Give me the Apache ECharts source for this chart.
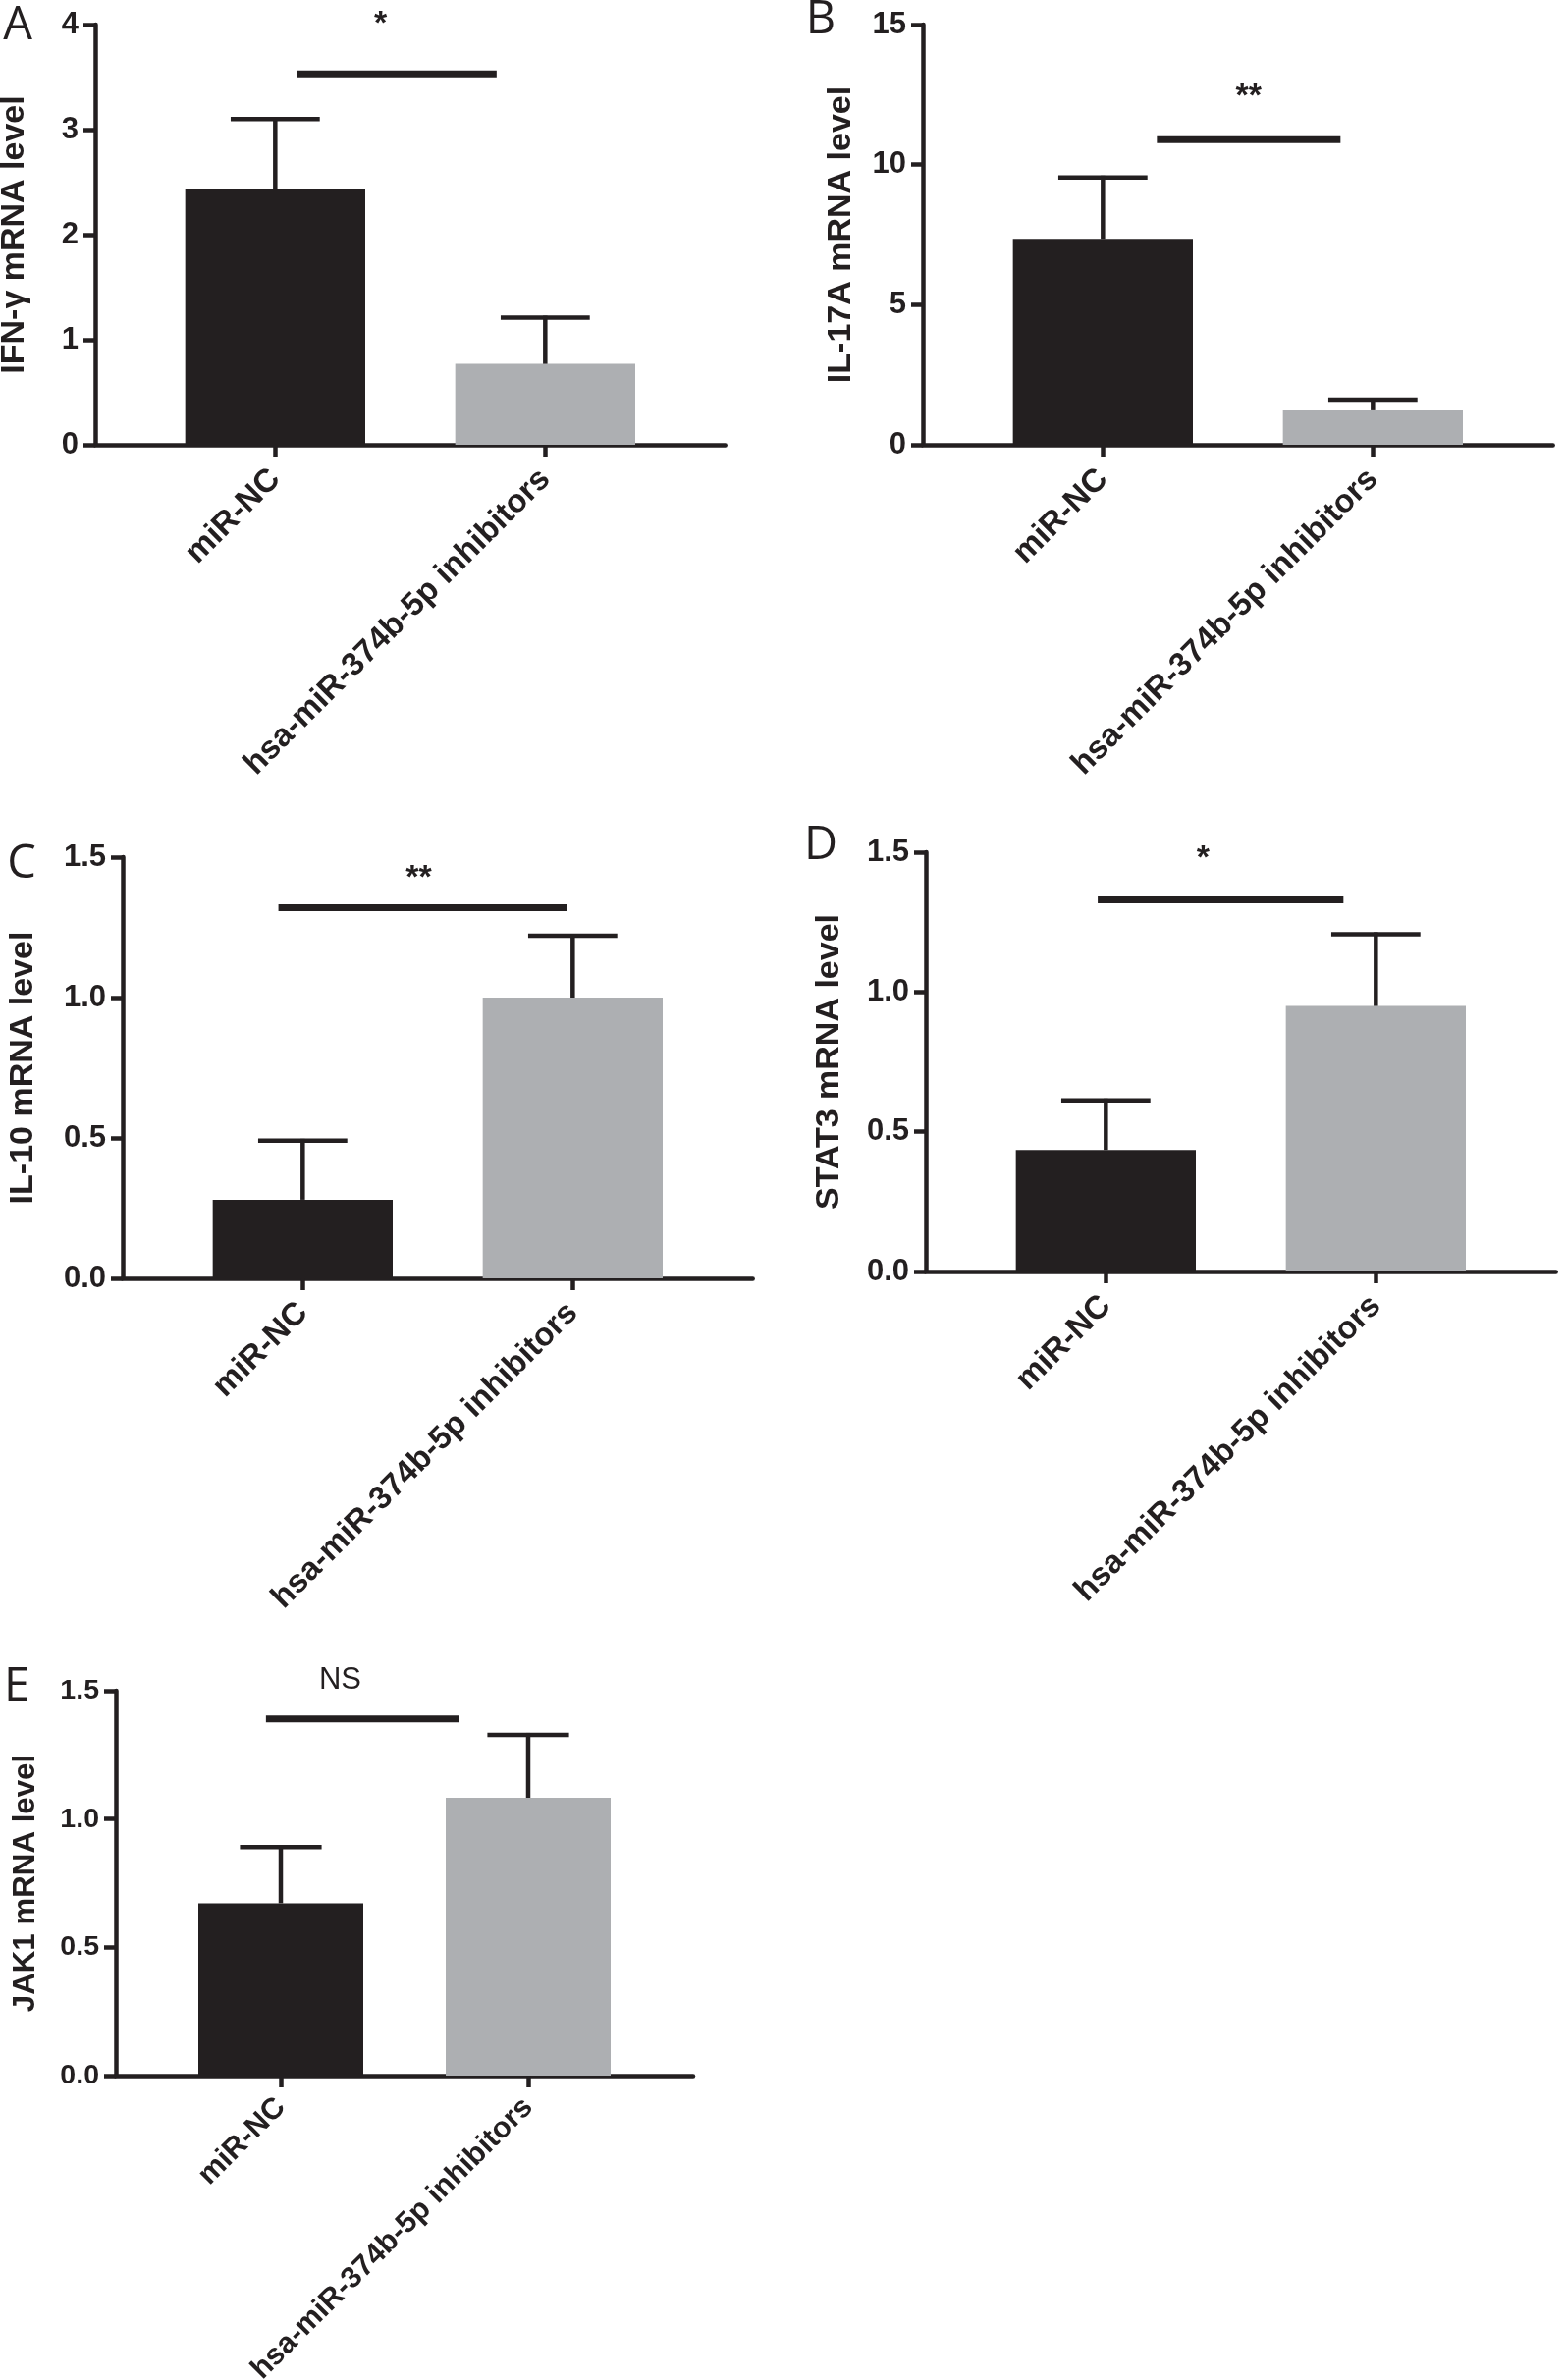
<!DOCTYPE html>
<html><head><meta charset="utf-8">
<script src="https://cdn.jsdelivr.net/npm/echarts@6/dist/echarts.min.js"></script>
<style>html,body{margin:0;padding:0;background:#fff}#chart{width:1594px;height:2424px}</style>
</head><body><div id="chart"></div>
<script>
// ---- data ----
const categories = ['miR-NC', 'hsa-miR-374b-5p inhibitors'];
const ifngMean = [2.43, 0.77];
const ifngSD = [0.67, 0.44];
const il17aMean = [7.35, 1.23];
const il17aSD = [2.19, 0.38];
const il10Mean = [0.28, 1.00];
const il10SD = [0.21, 0.22];
const stat3Mean = [0.435, 0.95];
const stat3SD = [0.177, 0.257];
const jak1Mean = [0.672, 1.083];
const jak1SD = [0.219, 0.245];
const panelLetters = ['A', 'B', 'C', 'D', 'E'];
const yTitles = ['IFN-γ mRNA level', 'IL-17A mRNA level', 'IL-10 mRNA level', 'STAT3 mRNA level', 'JAK1 mRNA level'];
const yMax = [4, 15, 1.5, 1.5, 1.5];
const yStep = [1, 5, 0.5, 0.5, 0.5];
const yDecimals = [0, 0, 1, 1, 1];
const sigText = ['*', '**', '**', '*', 'NS'];
const sigStart = [1.08, 1.20, 0.91, 0.97, 0.94];
const sigEnd = [1.82, 1.88, 1.98, 1.88, 1.72];
const sigLevel = [3.53, 10.89, 1.32, 1.33, 1.39];
const sigLabelX = [1.39, 1.54, 1.43, 1.36, 1.24];
const sigLabelY = [4.07, 12.65, 1.45, 1.50, 1.54];

const means = [ifngMean, il17aMean, il10Mean, stat3Mean, jak1Mean];
const sds = [ifngSD, il17aSD, il10SD, stat3SD, jak1SD];

// ---- layout / style ----
const INK = '#231f20';
const barColors = ['#231f20', '#adafb2'];
const layout = [
  {left: 97, top: 25, zero: 453, spacing: 275, nameGap: 65, lx: 18, ly: 27, s: 1},
  {left: 940, top: 25, zero: 453, spacing: 275, nameGap: 66, lx: 836, ly: 21, s: 1},
  {left: 125, top: 873, zero: 1302, spacing: 275, nameGap: 84, lx: 22, ly: 881, s: 1},
  {left: 943, top: 868, zero: 1295, spacing: 275, nameGap: 81, lx: 836, ly: 862, s: 1},
  {left: 118, top: 1722, zero: 2114, spacing: 252, nameGap: 76, lx: 17, ly: 1719, s: 0.92}
];
const XMIN = 1 / 3, XMAX = 8 / 3;
const BOLD = 'Liberation Sans';

const grid = [], xAxis = [], yAxis = [], series = [], graphic = [];
layout.forEach((L, i) => {
  const s = L.s;
  grid.push({left: L.left, top: L.top, width: L.spacing * (XMAX - XMIN), height: L.zero - L.top,
    containLabel: false, outerBoundsMode: 'none'});
  xAxis.push({
    type: 'value', gridIndex: i, min: XMIN, max: XMAX,
    axisLine: {show: true, onZero: false, lineStyle: {color: INK, width: 4.5}},
    axisTick: {show: true, customValues: [1, 2], length: 12, lineStyle: {color: INK, width: 4.5}},
    axisLabel: {
      show: true, customValues: [1, 2], rotate: 45, margin: 30 * s,
      formatter: v => categories[Math.round(v) - 1] || '',
      color: INK, fontSize: 33 * s, fontWeight: 'bold', fontFamily: BOLD
    },
    splitLine: {show: false}
  });
  yAxis.push({
    type: 'value', gridIndex: i, min: 0, max: yMax[i], interval: yStep[i],
    name: yTitles[i], nameLocation: 'middle', nameGap: L.nameGap,
    nameTextStyle: {color: INK, fontSize: 34 * s, fontWeight: 'bold', fontFamily: BOLD},
    axisLine: {show: true, onZero: false, lineStyle: {color: INK, width: 4.5}},
    axisTick: {show: true, length: 12, lineStyle: {color: INK, width: 4.5}},
    axisLabel: {
      color: INK, fontSize: 31 * s, fontWeight: 'bold', fontFamily: BOLD, margin: 17,
      formatter: v => v.toFixed(yDecimals[i])
    },
    splitLine: {show: false}
  });
  series.push({
    type: 'bar', xAxisIndex: i, yAxisIndex: i, barWidth: L.spacing * 2 / 3,
    data: means[i].map((m, k) => ({value: [k + 1, m], itemStyle: {color: barColors[k]}})),
    z: 2, silent: true
  });
  series.push({
    type: 'custom', xAxisIndex: i, yAxisIndex: i, z: 3, silent: true,
    data: means[i].map((m, k) => [k + 1, m, sds[i][k]]),
    renderItem: (params, api) => {
      const x = api.value(0), m = api.value(1), sd = api.value(2);
      const b = api.coord([x, m]);
      const t = api.coord([x, m + sd]);
      const half = api.size([0.165, 0])[0];
      const st = {stroke: INK, lineWidth: 4.5};
      return {type: 'group', children: [
        {type: 'line', shape: {x1: b[0], y1: b[1], x2: t[0], y2: t[1] - 2}, style: st},
        {type: 'line', shape: {x1: t[0] - half, y1: t[1], x2: t[0] + half, y2: t[1]}, style: st}
      ]};
    }
  });
  series.push({
    type: 'custom', xAxisIndex: i, yAxisIndex: i, z: 4, silent: true,
    data: [[sigStart[i], sigEnd[i], sigLevel[i], sigLabelX[i], sigLabelY[i]]],
    renderItem: (params, api) => {
      const p1 = api.coord([api.value(0), api.value(2)]);
      const p2 = api.coord([api.value(1), api.value(2)]);
      const lp = api.coord([api.value(3), api.value(4)]);
      const isNS = sigText[i] === 'NS';
      return {type: 'group', children: [
        {type: 'line', shape: {x1: p1[0], y1: p1[1], x2: p2[0], y2: p2[1]}, style: {stroke: INK, lineWidth: 7}},
        {type: 'text', x: lp[0], y: lp[1] + (isNS ? 0 : 7), style: {
          text: sigText[i], fill: INK, align: 'center', verticalAlign: 'middle',
          fontSize: isNS ? 31 : 34, fontWeight: isNS ? 'normal' : 'bold', fontFamily: BOLD
        }}
      ]};
    }
  });
  graphic.push({
    type: 'text', x: L.lx, y: L.ly, silent: true,
    style: {text: panelLetters[i], fill: INK, fontSize: 47, fontFamily: 'Open Sans', align: 'center', verticalAlign: 'middle'}
  });
});

const chart = echarts.init(document.getElementById('chart'), null, {renderer: 'canvas'});
chart.setOption({
  backgroundColor: '#ffffff',
  animation: false,
  grid, xAxis, yAxis, series, graphic
});
</script>
</body></html>
